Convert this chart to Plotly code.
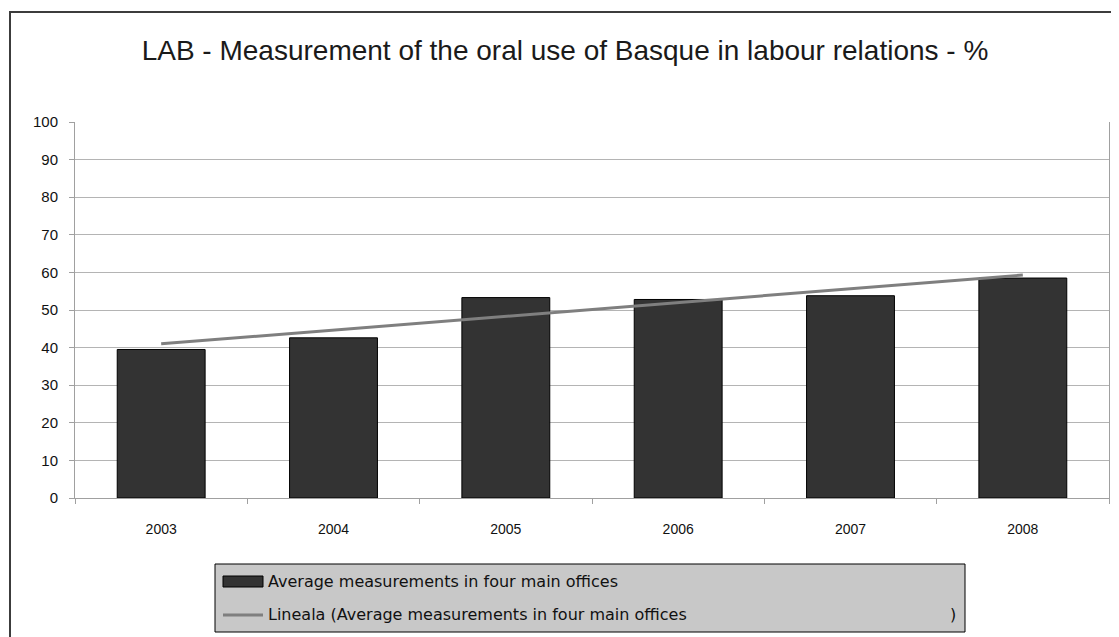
import plotly.graph_objects as go

# ---- data ----
years = ["2003", "2004", "2005", "2006", "2007", "2008"]
avg_values = [39.5, 42.6, 53.3, 52.8, 53.8, 58.5]
trend_years = ["2003", "2008"]
trend_values = [41.0, 59.3]
y_ticks = [0, 10, 20, 30, 40, 50, 60, 70, 80, 90, 100]

title_text = "LAB - Measurement of the oral use of Basque in labour relations - %"
bar_name = "Average measurements in four main offices"
trend_name = "Lineala (Average measurements in four main offices"

# the page body adds an 8px offset, so the figure is 8px smaller and
# all reference pixel positions are shifted by -8
OFF = 8
W, H = 1119 - OFF, 637 - OFF
L, R, T, B = 75 - OFF, 10, 122 - OFF, 139
PW, PH = W - L - R, H - T - B


def px(x):
    return (x - OFF - L) / PW


def py(y):
    return (H - B - (y - OFF)) / PH


fig = go.Figure()
fig.add_trace(go.Bar(
    x=years, y=avg_values, name=bar_name,
    marker=dict(color="#333333", line=dict(color="#000000", width=1)),
    showlegend=False,
))
fig.add_trace(go.Scatter(
    x=trend_years, y=trend_values, name=trend_name, mode="lines",
    line=dict(color="#7f7f7f", width=3), showlegend=False,
))

font_fam = "Liberation Sans, Arial, sans-serif"

shapes = [
    # outer chart frame
    dict(type="rect", xref="paper", yref="paper",
         x0=px(10), x1=px(1160), y0=py(680), y1=py(12),
         line=dict(color="#3c3c3c", width=2), fillcolor="rgba(0,0,0,0)", layer="below"),
    # legend box
    dict(type="rect", xref="paper", yref="paper",
         x0=px(215), x1=px(965), y0=py(632), y1=py(564),
         line=dict(color="#000000", width=1), fillcolor="#c8c8c8"),
    # bar swatch
    dict(type="rect", xref="paper", yref="paper",
         x0=px(223), x1=px(263), y0=py(587), y1=py(576),
         line=dict(color="#000000", width=1), fillcolor="#333333"),
    # line swatch
    dict(type="line", xref="paper", yref="paper",
         x0=px(223), x1=px(263), y0=py(615), y1=py(615),
         line=dict(color="#7f7f7f", width=3)),
]

leg_font = dict(family="DejaVu Sans, sans-serif", size=16, color="#111111")
annotations = [
    dict(text=bar_name, xref="paper", yref="paper", x=px(266), y=py(581),
         xanchor="left", yanchor="middle", showarrow=False, font=leg_font),
    dict(text=trend_name, xref="paper", yref="paper", x=px(266), y=py(614),
         xanchor="left", yanchor="middle", showarrow=False, font=leg_font),
    dict(text=")", xref="paper", yref="paper", x=px(958), y=py(614),
         xanchor="right", yanchor="middle", showarrow=False, font=leg_font),
]

fig.update_layout(
    width=W, height=H,
    margin=dict(l=L, r=R, t=T, b=B, pad=0),
    paper_bgcolor="#ffffff", plot_bgcolor="#ffffff",
    bargap=0.49,
    title=dict(text=title_text, x=(565 - OFF) / W, xanchor="center",
               y=1 - (50 - OFF) / H, yanchor="middle", yref="container",
               font=dict(family=font_fam, size=28, color="#1a1a1a")),
    shapes=shapes,
    annotations=annotations,
    showlegend=False,
    xaxis=dict(type="category", showgrid=False, showline=True,
               linecolor="#a0a0a0", linewidth=1,
               ticks="outside", tickson="boundaries", ticklen=5, tickcolor="#a0a0a0",
               ticklabelstandoff=18,
               tickfont=dict(family=font_fam, size=14, color="#111111"),
               fixedrange=True),
    yaxis=dict(range=[0, 100], tickvals=y_ticks, showgrid=True,
               gridcolor="#b4b4b4", gridwidth=1, zeroline=False,
               showline=True, mirror=True, linecolor="#a0a0a0", linewidth=1,
               ticks="outside", ticklen=5, tickcolor="#a0a0a0",
               ticklabelstandoff=8,
               tickfont=dict(family=font_fam, size=15, color="#111111"),
               fixedrange=True),
)

fig.write_html("out.html")
